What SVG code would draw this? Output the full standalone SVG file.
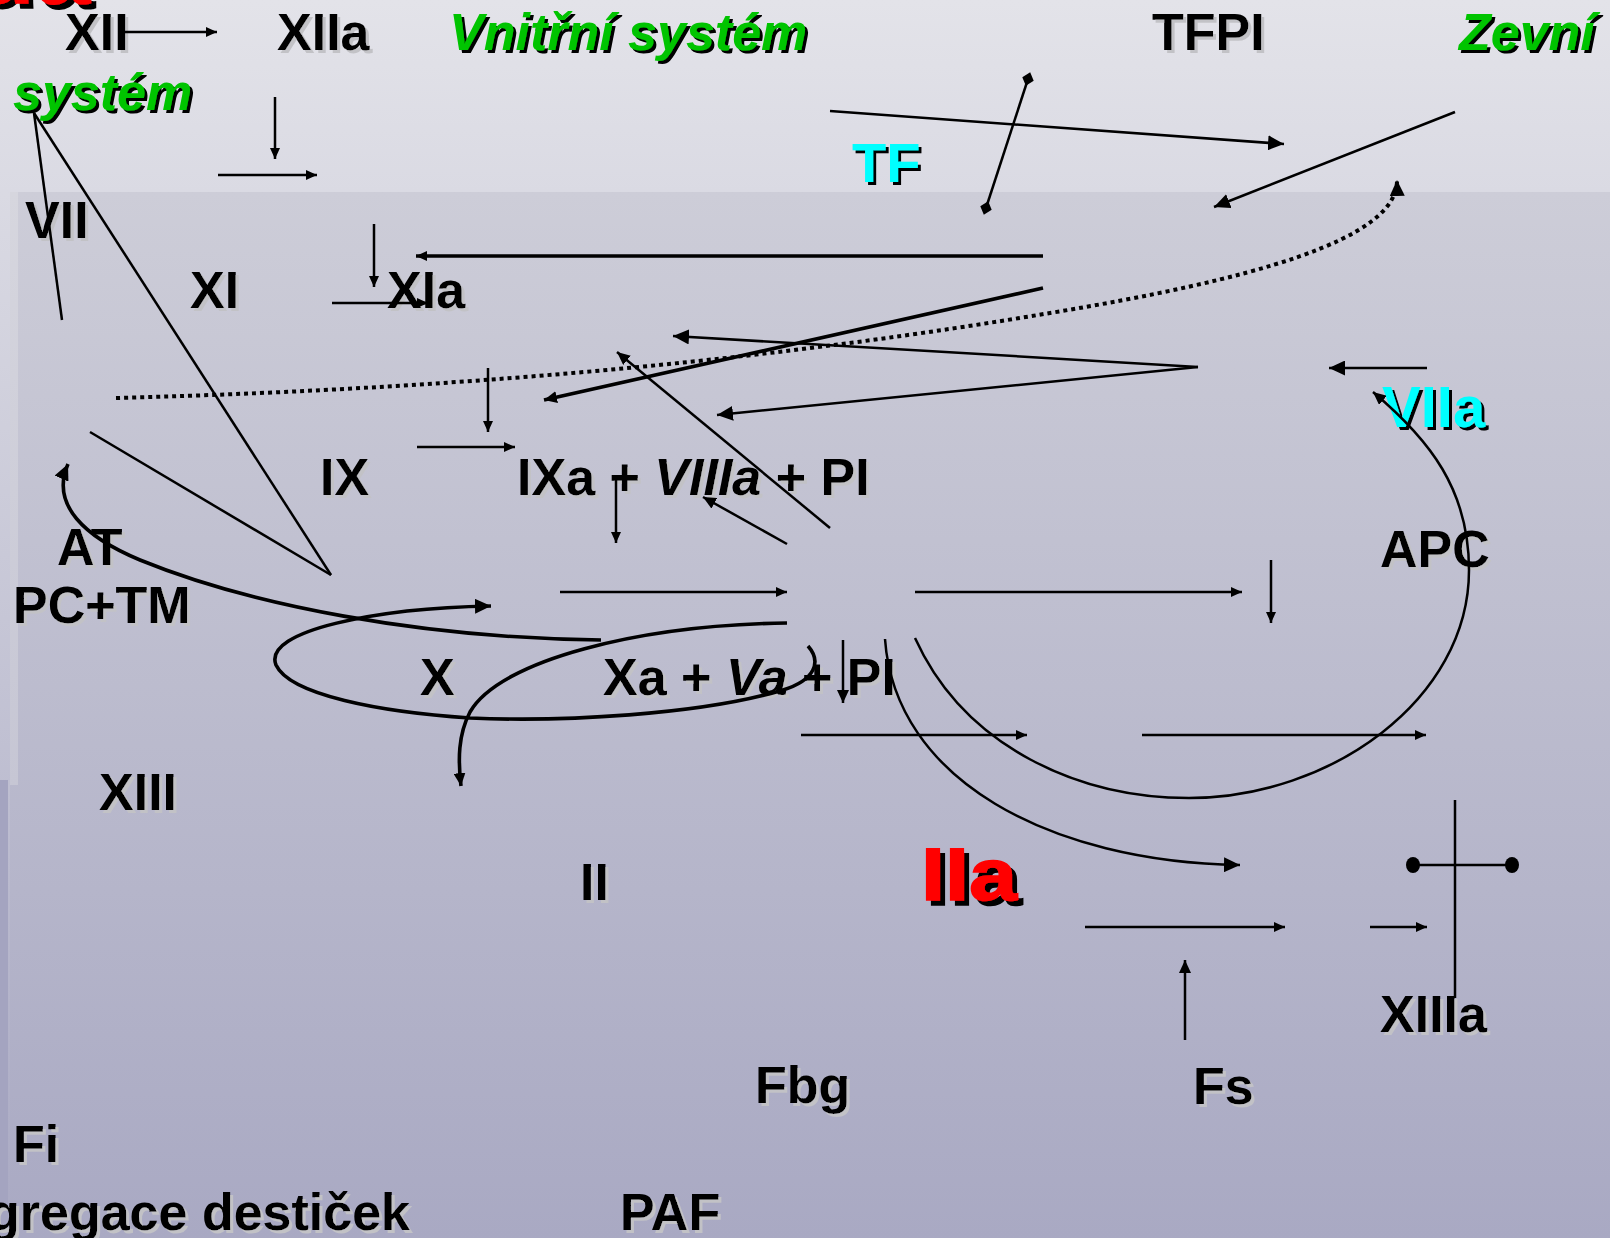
<svg xmlns="http://www.w3.org/2000/svg" width="1610" height="1238" viewBox="0 0 1610 1238">
  <defs>
    <linearGradient id="bgTop" x1="0" y1="0" x2="0" y2="1">
      <stop offset="0" stop-color="#e3e3e9"/>
      <stop offset="1" stop-color="#a9a9c3"/>
    </linearGradient>
    <linearGradient id="bgPanel" x1="0" y1="0" x2="0" y2="1">
      <stop offset="0" stop-color="#cdcdd8"/>
      <stop offset="1" stop-color="#a9a9c3"/>
    </linearGradient>
    <linearGradient id="bgStrip" x1="0" y1="0" x2="0" y2="1">
      <stop offset="0" stop-color="#d6d6de"/>
      <stop offset="1" stop-color="#c6c6d4"/>
    </linearGradient>

    <!-- hard drop shadows for the labels -->
    <filter id="shLight" x="-10%" y="-20%" width="130%" height="150%">
      <feOffset in="SourceAlpha" dx="3" dy="3" result="o"/>
      <feFlood flood-color="#c2c2c6"/>
      <feComposite in2="o" operator="in" result="s"/>
      <feMerge><feMergeNode in="s"/><feMergeNode in="SourceGraphic"/></feMerge>
    </filter>
    <filter id="shDark" x="-10%" y="-20%" width="130%" height="150%">
      <feOffset in="SourceAlpha" dx="3" dy="3" result="o"/>
      <feFlood flood-color="#000000"/>
      <feComposite in2="o" operator="in" result="s"/>
      <feMerge><feMergeNode in="s"/><feMergeNode in="SourceGraphic"/></feMerge>
    </filter>
    <filter id="shDarkBig" x="-10%" y="-20%" width="130%" height="150%">
      <feOffset in="SourceAlpha" dx="5" dy="5" result="o"/>
      <feFlood flood-color="#000000"/>
      <feComposite in2="o" operator="in" result="s"/>
      <feMerge><feMergeNode in="s"/><feMergeNode in="SourceGraphic"/></feMerge>
    </filter>

    <!-- arrowheads -->
    <marker id="sm" markerUnits="userSpaceOnUse" markerWidth="11" markerHeight="10" refX="11" refY="5" orient="auto">
      <path d="M0,0 L11,5 L0,10 z" fill="#000"/>
    </marker>
    <marker id="md" markerUnits="userSpaceOnUse" markerWidth="13" markerHeight="12" refX="13" refY="6" orient="auto">
      <path d="M0,0 L13,6 L0,12 z" fill="#000"/>
    </marker>
    <marker id="lg" markerUnits="userSpaceOnUse" markerWidth="16" markerHeight="15" refX="16" refY="7.5" orient="auto">
      <path d="M0,0 L16,7.5 L0,15 z" fill="#000"/>
    </marker>
    <marker id="diamond" markerUnits="userSpaceOnUse" markerWidth="14" markerHeight="14" refX="7" refY="7" orient="auto">
      <path d="M0,7 L7,1 L14,7 L7,13 z" fill="#000"/>
    </marker>
    <marker id="dot" markerUnits="userSpaceOnUse" markerWidth="16" markerHeight="18" refX="8" refY="9" orient="auto">
      <ellipse cx="8" cy="9" rx="7" ry="8" fill="#000"/>
    </marker>

    <style>
      .t { font-family: "Liberation Sans", Arial, sans-serif; font-weight: bold; font-size: 52px; fill: #000; filter: url(#shLight); }
      .g { fill: #00c400; font-style: italic; filter: url(#shDark); }
      .c { fill: #00ffff; filter: url(#shDark); }
      .r { fill: #ff0000; filter: url(#shDarkBig); }
      .i { font-style: italic; }
      .ln { fill: none; stroke: #000; stroke-width: 2.5; }
      .thk { stroke-width: 3.6; }
      .dots { stroke-width: 4; stroke-dasharray: 4 4; }
    </style>
  </defs>

  <!-- slide background -->
  <rect x="0" y="0" width="1610" height="1238" fill="url(#bgTop)"/>
  <rect x="10" y="192" width="1600" height="1046" fill="url(#bgPanel)"/>
  <rect x="10" y="192" width="8" height="593" fill="url(#bgStrip)"/>
  <rect x="0" y="780" width="8" height="458" fill="#a4a4c0"/>

  <!-- labels -->
  <g id="title-fragment"><text class="t r" x="-26" y="4" style="font-size:100px">da</text></g>
  <g id="n-XII"><text class="t" x="65" y="50">XII</text></g>
  <g id="n-XIIa"><text class="t" x="277" y="50">XIIa</text></g>
  <g id="lbl-vnitrni"><text class="t g" x="449" y="50">Vnitřní systém</text></g>
  <g id="n-TFPI"><text class="t" x="1152" y="50">TFPI</text></g>
  <g id="lbl-zevni"><text class="t g" x="1459" y="50">Zevní</text></g>
  <g id="lbl-system"><text class="t g" x="13" y="110">systém</text></g>
  <g id="n-TF"><text class="t c" x="852" y="182" style="font-size:56px">TF</text></g>
  <g id="n-VII"><text class="t" x="25" y="238">VII</text></g>
  <g id="n-XI"><text class="t" x="190" y="308">XI</text></g>
  <g id="n-XIa"><text class="t" x="387" y="308">XIa</text></g>
  <g id="n-IX"><text class="t" x="320" y="495">IX</text></g>
  <g id="n-tenase"><text class="t" x="517" y="495">IXa + <tspan class="i">VIIIa</tspan> + PI</text></g>
  <g id="n-VIIa"><text class="t c" x="1382" y="427" style="font-size:58px">VIIa</text></g>
  <g id="n-AT"><text class="t" x="57" y="565">AT</text></g>
  <g id="n-APC"><text class="t" x="1380" y="567">APC</text></g>
  <g id="n-PCTM"><text class="t" x="13" y="623">PC+TM</text></g>
  <g id="n-X"><text class="t" x="420" y="695">X</text></g>
  <g id="n-prothrombinase"><text class="t" x="603" y="695">Xa + <tspan class="i">Va</tspan> + PI</text></g>
  <g id="n-XIII"><text class="t" x="99" y="810">XIII</text></g>
  <g id="n-II"><text class="t" x="580" y="900">II</text></g>
  <g id="n-IIa"><text class="t r" x="921" y="900" style="font-size:75px" textLength="96" lengthAdjust="spacingAndGlyphs" stroke="#ff0000" stroke-width="1.5">IIa</text></g>
  <g id="n-XIIIa"><text class="t" x="1380" y="1032">XIIIa</text></g>
  <g id="n-Fbg"><text class="t" x="755" y="1103">Fbg</text></g>
  <g id="n-Fs"><text class="t" x="1193" y="1104">Fs</text></g>
  <g id="n-Fi"><text class="t" x="13" y="1162">Fi</text></g>
  <g id="n-agregace"><text class="t" x="-12" y="1230">gregace destiček</text></g>
  <g id="n-PAF"><text class="t" x="620" y="1230">PAF</text></g>

  <!-- connectors -->
  <g id="connectors">
    <!-- intrinsic pathway -->
    <path class="ln" d="M125,32 H217" marker-end="url(#sm)"/>
    <path class="ln" d="M275,97 V159" marker-end="url(#sm)"/>
    <path class="ln" d="M218,175 H317" marker-end="url(#sm)"/>
    <path class="ln" d="M374,224 V287" marker-end="url(#sm)"/>
    <path class="ln" d="M332,303 H428" marker-end="url(#sm)"/>
    <path class="ln" d="M488,368 V432" marker-end="url(#sm)"/>
    <path class="ln" d="M417,447 H515" marker-end="url(#sm)"/>
    <path class="ln" d="M616,480 V543" marker-end="url(#sm)"/>
    <path class="ln" d="M560,592 H787" marker-end="url(#sm)"/>
    <path class="ln" d="M915,592 H1242" marker-end="url(#sm)"/>
    <path class="ln" d="M1271,560 V623" marker-end="url(#sm)"/>

    <!-- lines fanning out from "systém" -->
    <path class="ln" d="M34,113 L62,320"/>
    <path class="ln" d="M34,113 L331,575"/>
    <path class="ln" d="M90,432 L331,575"/>

    <!-- extrinsic pathway -->
    <path class="ln" d="M830,111 L1284,144" marker-end="url(#lg)"/>
    <path class="ln" d="M986,208 L1028,79" marker-start="url(#diamond)" marker-end="url(#diamond)"/>
    <path class="ln" d="M1455,112 L1214,207" marker-end="url(#lg)"/>
    <path class="ln thk" d="M1043,256 H416" marker-end="url(#sm)"/>
    <path class="ln thk" d="M1043,288 L544,400" marker-end="url(#md)"/>
    <path class="ln" d="M1198,367 L673,336" marker-end="url(#lg)"/>
    <path class="ln" d="M1198,367 L717,415" marker-end="url(#lg)"/>
    <path class="ln" d="M1427,368 H1329" marker-end="url(#lg)"/>
    <path class="ln" d="M830,528 L617,352" marker-end="url(#md)"/>
    <path class="ln" d="M787,544 L703,497" marker-end="url(#md)"/>
    <path class="ln dots" d="M116,398 C500,388 800,355 1050,313 C1250,280 1398,240 1397,180" marker-end="url(#lg)"/>

    <!-- feedback curves -->
    <path class="ln thk" d="M601,640 C420,638 250,605 140,560 C85,537 50,505 68,464" marker-end="url(#lg)"/>
    <path class="ln thk" d="M808,646 C822,662 815,680 783,690 C700,715 560,722 470,718 C380,712 290,695 276,665 C262,630 380,608 491,606" marker-end="url(#lg)"/>
    <path class="ln thk" d="M787,623 C640,625 500,660 470,712 C458,735 458,760 461,786" marker-end="url(#md)"/>
    <path class="ln" stroke-width="4" d="M843,640 V703" marker-end="url(#md)"/>
    <path class="ln" d="M915,638 C965,748 1080,798 1189,798 C1330,798 1469,700 1469,570 C1469,490 1430,440 1373,392" marker-end="url(#md)"/>
    <path class="ln" d="M885,639 C895,780 1050,862 1240,865" marker-end="url(#lg)"/>

    <!-- thrombin / fibrin stage -->
    <path class="ln" d="M801,735 H1027" marker-end="url(#sm)"/>
    <path class="ln" d="M1142,735 H1426" marker-end="url(#sm)"/>
    <path class="ln" d="M1455,800 V998"/>
    <path class="ln" stroke-width="3" d="M1413,865 H1512" marker-start="url(#dot)" marker-end="url(#dot)"/>
    <path class="ln" stroke-width="3" d="M1085,927 H1285" marker-end="url(#sm)"/>
    <path class="ln" stroke-width="3" d="M1370,927 H1427" marker-end="url(#sm)"/>
    <path class="ln" d="M1185,1040 V960" marker-end="url(#md)"/>
  </g>
</svg>
